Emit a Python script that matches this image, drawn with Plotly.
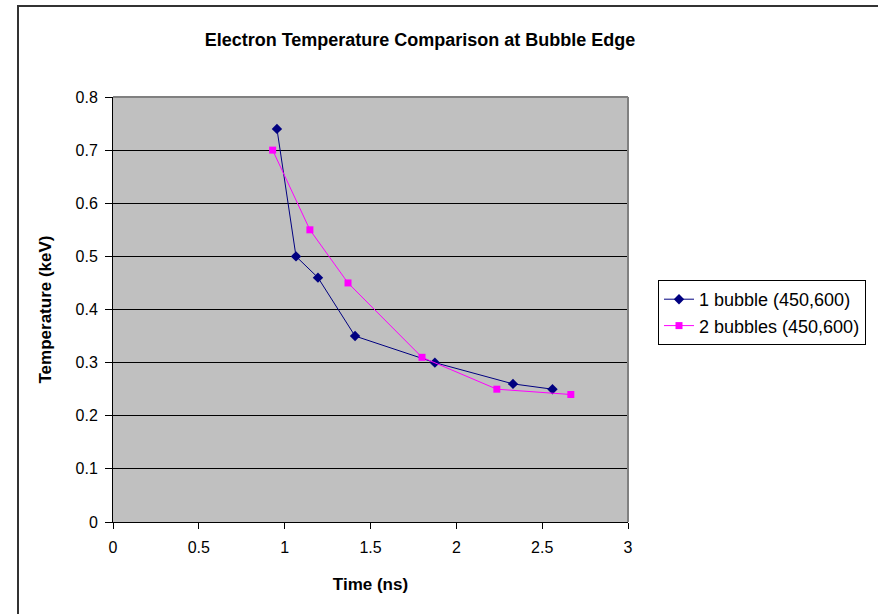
import plotly.graph_objects as go

x1 = [0.955, 1.066, 1.194, 1.41, 1.875, 2.33, 2.56]
y1 = [0.74, 0.50, 0.46, 0.35, 0.30, 0.26, 0.25]
x2 = [0.93, 1.147, 1.369, 1.80, 2.236, 2.667]
y2 = [0.70, 0.55, 0.45, 0.31, 0.25, 0.24]
name1 = "1 bubble (450,600)"
name2 = "2 bubbles (450,600)"

W, H = 878, 614
L, R, T, B = 113, 250, 97, 92
pw, ph = W - L - R, H - T - B

def px(x):
    return (x - L) / pw

def py(y):
    return (H - B - y) / ph

fig = go.Figure()
fig.add_trace(go.Scatter(x=x1, y=y1, mode="lines+markers", name=name1,
                         line=dict(color="#000080", width=1),
                         marker=dict(symbol="diamond", size=8, color="#000080")))
fig.add_trace(go.Scatter(x=x2, y=y2, mode="lines+markers", name=name2,
                         line=dict(color="#FF00FF", width=1),
                         marker=dict(symbol="square", size=7, color="#FF00FF")))

font = "Liberation Sans, Arial, sans-serif"
fig.update_layout(
    width=W, height=H,
    margin=dict(l=L, r=R, t=T, b=B),
    paper_bgcolor="white", plot_bgcolor="#C0C0C0",
    font=dict(family=font, size=17, color="black"),
    title=dict(text="<b>Electron Temperature Comparison at Bubble Edge</b>",
               x=px(420), xref="paper", xanchor="center",
               y=1 - 40 / H, yanchor="middle", font=dict(size=18)),
    xaxis=dict(range=[0, 3], dtick=0.5, showgrid=False, showline=True,
               linecolor="black", linewidth=1, ticks="outside", ticklen=6,
               tickcolor="black", zeroline=False, tickfont=dict(size=16),
               ticklabelstandoff=5,
               title=dict(text="<b>Time (ns)</b>", standoff=22, font=dict(size=17))),
    yaxis=dict(range=[0, 0.8], dtick=0.1, showgrid=True, gridcolor="black",
               gridwidth=1, showline=True, linecolor="black", linewidth=1,
               ticks="outside", ticklen=7, tickcolor="black", zeroline=False,
               tickfont=dict(size=16), ticklabelstandoff=4,
               title=dict(text="<b>Temperature (keV)</b>", standoff=19, font=dict(size=17))),
    legend=dict(x=px(658), y=py(280), xanchor="left", yanchor="top",
                bgcolor="white", bordercolor="black", borderwidth=1,
                font=dict(size=18), tracegroupgap=0),
    showlegend=True,
)
fig.add_shape(type="line", xref="paper", yref="paper", x0=0, x1=1, y0=1, y1=1,
              line=dict(color="#808080", width=2), layer="above")
fig.add_shape(type="line", xref="paper", yref="paper", x0=1, x1=1, y0=0, y1=1,
              line=dict(color="#808080", width=2), layer="above")
fig.add_shape(type="rect", xref="paper", yref="paper",
              x0=px(18), x1=px(W + 5), y0=py(H + 5), y1=py(6),
              line=dict(color="#333333", width=2), layer="above")

fig.write_html("out.html", config={"displayModeBar": False},
               post_script="document.body.style.margin='0';document.body.style.overflow='hidden';")
